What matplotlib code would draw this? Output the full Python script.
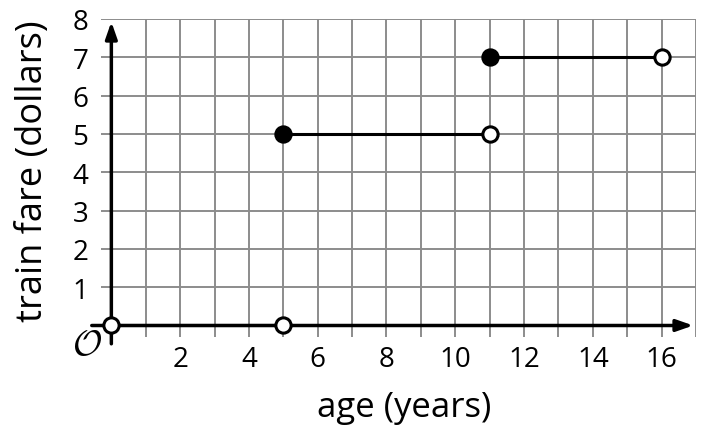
import matplotlib.pyplot as plt

plt.rcParams['font.family'] = ['Open Sans', 'DejaVu Sans']
plt.rcParams['mathtext.fontset'] = 'cm'

# step function pieces: (start, end, fare)
seg_start = [0, 5, 11]
seg_end = [5, 11, 16]
seg_fare = [0, 5, 7]
start_filled = [False, True, True]

x_ticks = [2, 4, 6, 8, 10, 12, 14, 16]
y_ticks = [1, 2, 3, 4, 5, 6, 7, 8]

fig = plt.figure(figsize=(7.09, 4.31), dpi=100)
ax = fig.add_axes([0.1425, 0.2158, 0.8392, 0.7378])
ax.set_xlim(-0.3, 17)
ax.set_ylim(-0.3, 8)
for s in ax.spines.values():
    s.set_visible(False)

# grid
ax.vlines(range(1, 18), -0.3, 8, color='#8c8c8c', lw=1.4, zorder=1)
ax.hlines(range(1, 9), -0.3, 17, color='#8c8c8c', lw=1.4, zorder=1)

# axes with arrows
ax.annotate('', xy=(17, 0), xytext=(-0.65, 0),
            arrowprops=dict(arrowstyle='-|>,head_length=1.0,head_width=0.35', color='black', lw=2.5),
            annotation_clip=False, zorder=2)
ax.annotate('', xy=(0, 8), xytext=(0, -0.55),
            arrowprops=dict(arrowstyle='-|>,head_length=1.0,head_width=0.35', color='black', lw=2.5),
            annotation_clip=False, zorder=2)

for x0, x1, y, filled in zip(seg_start, seg_end, seg_fare, start_filled):
    ax.plot([x0, x1], [y, y], color='black', lw=2.2, zorder=3)
    ax.plot([x0], [y], 'o', ms=11, mec='black', mew=2.2,
            mfc='black' if filled else 'white', zorder=4, clip_on=False)
    ax.plot([x1], [y], 'o', ms=11, mec='black', mew=2.2, mfc='white', zorder=4, clip_on=False)

ax.set_xticks(x_ticks)
ax.set_yticks(y_ticks)
ax.tick_params(length=0, labelsize=20, colors='black')
ax.tick_params(axis='x', pad=6)
ax.tick_params(axis='y', pad=9)

ax.text(-0.72, -0.5, r'$\mathcal{O}$', fontsize=26, ha='center', va='center')

fig.text(404 / 709, 1 - 408 / 431, 'age (years)', fontsize=25, ha='center', va='center')
fig.text(33 / 709, 1 - 171 / 431, 'train fare (dollars)', fontsize=26,
         rotation=90, ha='center', va='center')

fig.savefig('out.png', dpi=100)
